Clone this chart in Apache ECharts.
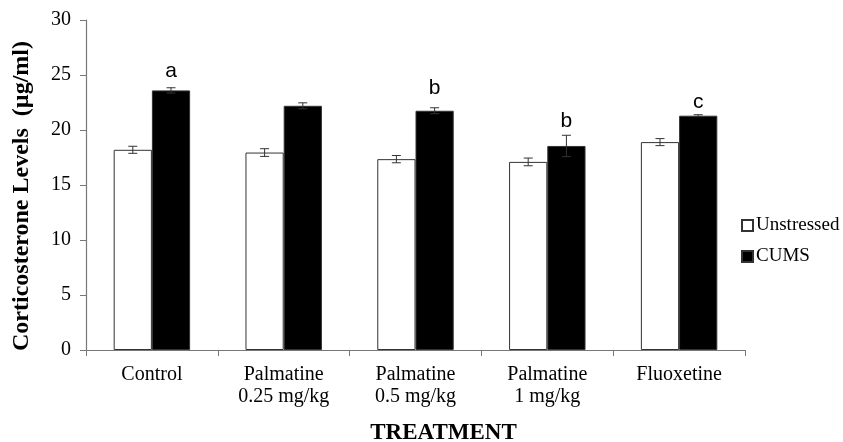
<!DOCTYPE html>
<html>
<head>
<meta charset="utf-8">
<script src="https://cdn.jsdelivr.net/npm/echarts@6/dist/echarts.min.js"></script>
<style>
  html, body { margin: 0; padding: 0; background: #fff; }
  #chart { width: 843px; height: 442px; }
</style>
</head>
<body>
<div id="chart"></div>
<script>
// Treatment groups on the x axis
const categories = ['Control', 'Palmatine\n0.25 mg/kg', 'Palmatine\n0.5 mg/kg', 'Palmatine\n1 mg/kg', 'Fluoxetine'];

// Corticosterone levels (µg/ml), mean and SEM
const unstressedMean = [18.2, 17.95, 17.35, 17.1, 18.9];
const unstressedSem  = [0.32, 0.35, 0.33, 0.35, 0.32];
const cumsMean = [23.6, 22.2, 21.75, 18.55, 21.3];
const cumsSem  = [0.24, 0.27, 0.27, 0.97, 0.09];

// Significance letters over the CUMS bars
const cumsLetters = ['a', '', 'b', 'b', 'c'];

// y axis ticks
const yTicks = [0, 5, 10, 15, 20, 25, 30];

const SERIF = "'Liberation Serif', 'Times New Roman', serif";
const letterGap = [9, 0, 12, 14, 3];
const CATEGORY_GAP = 0.42;

const chart = echarts.init(document.getElementById('chart'));

function errorBars(seriesIdx, means, sems) {
  return {
    type: 'custom',
    z: 5,
    silent: true,
    data: means.map((m, i) => [i, m, sems[i]]),
    renderItem: function (params, api) {
      const idx = api.value(0);
      const mean = api.value(1);
      const sem = api.value(2);
      const band = api.size([1, 0])[0];
      const barW = band * (1 - CATEGORY_GAP) / 2;
      const shift = seriesIdx === 0 ? -barW / 2 : barW / 2;
      const top = api.coord([idx, mean + sem]);
      const bot = api.coord([idx, mean - sem]);
      const x = top[0] + shift;
      const cap = 4.5;
      const style = { stroke: '#333', lineWidth: 1 };
      return {
        type: 'group',
        children: [
          { type: 'line', shape: { x1: x, y1: top[1], x2: x, y2: bot[1] }, style },
          { type: 'line', shape: { x1: x - cap, y1: top[1], x2: x + cap, y2: top[1] }, style },
          { type: 'line', shape: { x1: x - cap, y1: bot[1], x2: x + cap, y2: bot[1] }, style }
        ]
      };
    }
  };
}

const option = {
  animation: false,
  backgroundColor: '#fff',
  grid: { left: 86, right: 98, top: 20, bottom: 92, containLabel: false, outerBoundsMode: 'none' },
  legend: {
    orient: 'vertical',
    left: 736,
    top: 211,
    itemWidth: 11,
    itemHeight: 11,
    itemGap: 12,
    icon: 'rect',
    textStyle: { fontFamily: SERIF, fontSize: 19, color: '#000', padding: [0, 0, 0, -2] },
    data: ['Unstressed', 'CUMS']
  },
  xAxis: {
    type: 'category',
    data: categories,
    name: 'TREATMENT',
    nameLocation: 'middle',
    nameGap: 72,
    nameTextStyle: { fontFamily: SERIF, fontSize: 23, fontWeight: 'bold', color: '#000', padding: [0, 0, 0, 56] },
    axisLine: { lineStyle: { color: '#777', width: 1.2 } },
    axisTick: { show: true, length: 6, lineStyle: { color: '#777' } },
    axisLabel: { fontFamily: SERIF, fontSize: 20, color: '#000', margin: 14, lineHeight: 22 }
  },
  yAxis: {
    type: 'value',
    min: yTicks[0],
    max: yTicks[yTicks.length - 1],
    interval: 5,
    name: 'Corticosterone Levels  (µg/ml)',
    nameLocation: 'middle',
    nameGap: 52,
    nameTextStyle: { fontFamily: SERIF, fontSize: 24, fontWeight: 'bold', color: '#000', padding: [0, 22, 0, 0] },
    splitLine: { show: false },
    axisLine: { show: true, lineStyle: { color: '#777', width: 1.2 } },
    axisTick: { show: true, length: 6, lineStyle: { color: '#777' } },
    axisLabel: { fontFamily: SERIF, fontSize: 20, color: '#000', margin: 15 }
  },
  series: [
    {
      name: 'Unstressed',
      type: 'bar',
      data: unstressedMean,
      barGap: '0%',
      barCategoryGap: (CATEGORY_GAP * 100) + '%',
      itemStyle: { color: '#fff', borderColor: '#333', borderWidth: 1 }
    },
    {
      name: 'CUMS',
      type: 'bar',
      data: cumsMean.map((v, i) => ({
        value: v,
        label: { show: cumsLetters[i] !== '', distance: letterGap[i] }
      })),
      barGap: '0%',
      barCategoryGap: (CATEGORY_GAP * 100) + '%',
      itemStyle: { color: '#000', borderColor: '#333', borderWidth: 1 },
      label: {
        position: 'top',
        fontFamily: "'Liberation Sans', Arial, sans-serif",
        fontSize: 21,
        color: '#000',
        formatter: p => cumsLetters[p.dataIndex]
      }
    },
    errorBars(0, unstressedMean, unstressedSem),
    errorBars(1, cumsMean, cumsSem)
  ]
};

chart.setOption(option);
</script>
</body>
</html>
